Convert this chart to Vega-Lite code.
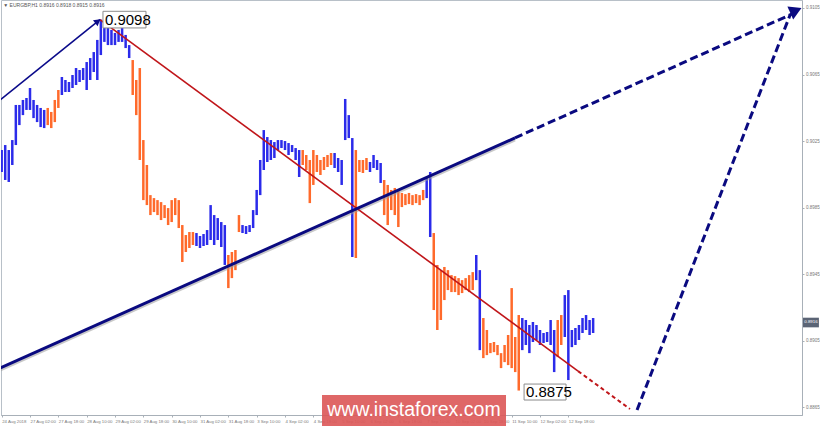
{
  "$schema": "https://vega.github.io/schema/vega-lite/v6.json",
  "width": 801,
  "height": 415,
  "autosize": "none",
  "padding": {"left": 1, "top": 0, "right": 18, "bottom": 11},
  "background": "white",
  "config": {"view": {"stroke": "#b8c0c8", "strokeWidth": 1}, "font": "Liberation Sans"},
  "datasets": {
    "bars": [
      {"t":0,"hi":0.90196,"lo":0.90064,"s":"u"},{"t":2,"hi":0.90226,"lo":0.90016,"s":"u"},{"t":4,"hi":0.90196,"lo":0.90004,"s":"u"},{"t":6,"hi":0.90256,"lo":0.90106,"s":"u"},
      {"t":8,"hi":0.90467,"lo":0.90226,"s":"u"},{"t":10,"hi":0.90467,"lo":0.90346,"s":"u"},{"t":12,"hi":0.90497,"lo":0.90406,"s":"u"},{"t":14,"hi":0.90509,"lo":0.90437,"s":"u"},
      {"t":16,"hi":0.90569,"lo":0.90437,"s":"u"},{"t":18,"hi":0.90497,"lo":0.90388,"s":"u"},{"t":20,"hi":0.90467,"lo":0.90364,"s":"u"},{"t":22,"hi":0.90449,"lo":0.90334,"s":"u"},
      {"t":24,"hi":0.90437,"lo":0.90328,"s":"u"},{"t":26,"hi":0.90449,"lo":0.90346,"s":"d"},{"t":28,"hi":0.90425,"lo":0.90328,"s":"d"},{"t":30,"hi":0.90497,"lo":0.90364,"s":"d"},
      {"t":32,"hi":0.90557,"lo":0.90449,"s":"d"},{"t":34,"hi":0.90635,"lo":0.90527,"s":"u"},{"t":36,"hi":0.90617,"lo":0.90545,"s":"u"},{"t":38,"hi":0.90605,"lo":0.90545,"s":"u"},
      {"t":40,"hi":0.90647,"lo":0.90569,"s":"u"},{"t":42,"hi":0.90689,"lo":0.90587,"s":"u"},{"t":44,"hi":0.90677,"lo":0.90605,"s":"u"},{"t":46,"hi":0.90689,"lo":0.90617,"s":"u"},
      {"t":48,"hi":0.90725,"lo":0.90557,"s":"u"},{"t":50,"hi":0.90749,"lo":0.90617,"s":"u"},{"t":52,"hi":0.90785,"lo":0.90665,"s":"u"},{"t":54,"hi":0.90858,"lo":0.90617,"s":"u"},
      {"t":56,"hi":0.9098,"lo":0.90767,"s":"u"},{"t":58,"hi":0.90948,"lo":0.90846,"s":"u"},{"t":60,"hi":0.90936,"lo":0.90827,"s":"u"},{"t":62,"hi":0.90918,"lo":0.90827,"s":"u"},
      {"t":64,"hi":0.909,"lo":0.90827,"s":"u"},{"t":66,"hi":0.90918,"lo":0.90846,"s":"u"},{"t":68,"hi":0.9093,"lo":0.90846,"s":"u"},{"t":70,"hi":0.90888,"lo":0.90809,"s":"u"},
      {"t":72,"hi":0.90827,"lo":0.90749,"s":"u"},{"t":74,"hi":0.90737,"lo":0.90527,"s":"d"},{"t":76,"hi":0.90617,"lo":0.90406,"s":"d"},{"t":78,"hi":0.90689,"lo":0.90136,"s":"d"},
      {"t":80,"hi":0.90256,"lo":0.89895,"s":"d"},{"t":82,"hi":0.90106,"lo":0.89865,"s":"d"},{"t":84,"hi":0.89925,"lo":0.89805,"s":"d"},{"t":86,"hi":0.89907,"lo":0.89823,"s":"d"},
      {"t":88,"hi":0.89895,"lo":0.89805,"s":"d"},{"t":90,"hi":0.89883,"lo":0.89775,"s":"d"},{"t":92,"hi":0.89865,"lo":0.89787,"s":"d"},{"t":94,"hi":0.89847,"lo":0.89745,"s":"d"},
      {"t":96,"hi":0.89895,"lo":0.89763,"s":"d"},{"t":98,"hi":0.89907,"lo":0.89805,"s":"d"},{"t":100,"hi":0.89895,"lo":0.89727,"s":"d"},{"t":102,"hi":0.89745,"lo":0.89523,"s":"d"},
      {"t":104,"hi":0.89685,"lo":0.89583,"s":"d"},{"t":106,"hi":0.89703,"lo":0.89607,"s":"d"},{"t":108,"hi":0.89703,"lo":0.89625,"s":"d"},{"t":110,"hi":0.89697,"lo":0.89619,"s":"u"},
      {"t":112,"hi":0.89679,"lo":0.89607,"s":"u"},{"t":114,"hi":0.89691,"lo":0.89619,"s":"u"},{"t":116,"hi":0.89715,"lo":0.89625,"s":"u"},{"t":118,"hi":0.89865,"lo":0.89655,"s":"u"},
      {"t":120,"hi":0.89805,"lo":0.89625,"s":"u"},{"t":122,"hi":0.89787,"lo":0.89655,"s":"u"},{"t":124,"hi":0.89763,"lo":0.89613,"s":"u"},{"t":126,"hi":0.89745,"lo":0.89505,"s":"u"},
      {"t":128,"hi":0.89565,"lo":0.89366,"s":"d"},{"t":130,"hi":0.89583,"lo":0.89426,"s":"d"},{"t":132,"hi":0.89595,"lo":0.89474,"s":"d"},{"t":134,"hi":0.89805,"lo":0.89703,"s":"d"},
      {"t":136,"hi":0.89745,"lo":0.89697,"s":"u"},{"t":138,"hi":0.89739,"lo":0.89691,"s":"u"},{"t":140,"hi":0.89745,"lo":0.89703,"s":"u"},{"t":142,"hi":0.89835,"lo":0.89727,"s":"u"},
      {"t":144,"hi":0.89956,"lo":0.89805,"s":"u"},{"t":146,"hi":0.90136,"lo":0.89925,"s":"u"},{"t":148,"hi":0.90316,"lo":0.90076,"s":"u"},{"t":150,"hi":0.90274,"lo":0.90124,"s":"u"},
      {"t":152,"hi":0.90256,"lo":0.90136,"s":"u"},{"t":154,"hi":0.90244,"lo":0.90148,"s":"u"},{"t":156,"hi":0.90256,"lo":0.90196,"s":"u"},{"t":158,"hi":0.90256,"lo":0.90208,"s":"u"},
      {"t":160,"hi":0.9025,"lo":0.90196,"s":"u"},{"t":162,"hi":0.90238,"lo":0.90166,"s":"u"},{"t":164,"hi":0.90226,"lo":0.90184,"s":"u"},{"t":166,"hi":0.90208,"lo":0.90136,"s":"u"},
      {"t":168,"hi":0.90196,"lo":0.90034,"s":"u"},{"t":170,"hi":0.90196,"lo":0.90106,"s":"d"},{"t":172,"hi":0.90166,"lo":0.90076,"s":"d"},{"t":174,"hi":0.90136,"lo":0.89877,"s":"d"},
      {"t":176,"hi":0.90196,"lo":0.89986,"s":"d"},{"t":178,"hi":0.90166,"lo":0.90064,"s":"d"},{"t":180,"hi":0.90136,"lo":0.90046,"s":"d"},{"t":182,"hi":0.90154,"lo":0.90076,"s":"d"},
      {"t":184,"hi":0.90166,"lo":0.90094,"s":"d"},{"t":186,"hi":0.90178,"lo":0.90106,"s":"d"},{"t":188,"hi":0.90178,"lo":0.90088,"s":"u"},{"t":190,"hi":0.90148,"lo":0.90064,"s":"u"},
      {"t":192,"hi":0.90136,"lo":0.89986,"s":"u"},{"t":194,"hi":0.90503,"lo":0.90256,"s":"u"},{"t":196,"hi":0.90406,"lo":0.90268,"s":"u"},{"t":198,"hi":0.90268,"lo":0.89553,"s":"u"},
      {"t":200,"hi":0.90196,"lo":0.89547,"s":"d"},{"t":202,"hi":0.90136,"lo":0.90064,"s":"d"},{"t":204,"hi":0.90136,"lo":0.90058,"s":"d"},{"t":206,"hi":0.90148,"lo":0.90076,"s":"d"},
      {"t":208,"hi":0.90124,"lo":0.90064,"s":"u"},{"t":210,"hi":0.90166,"lo":0.90088,"s":"u"},{"t":212,"hi":0.90136,"lo":0.90076,"s":"u"},{"t":214,"hi":0.90118,"lo":0.89998,"s":"u"},
      {"t":216,"hi":0.90016,"lo":0.89805,"s":"d"},{"t":218,"hi":0.89986,"lo":0.89745,"s":"d"},{"t":220,"hi":0.89956,"lo":0.89835,"s":"d"},{"t":222,"hi":0.89968,"lo":0.89805,"s":"d"},
      {"t":224,"hi":0.89956,"lo":0.89733,"s":"d"},{"t":226,"hi":0.89938,"lo":0.89853,"s":"d"},{"t":228,"hi":0.89931,"lo":0.89865,"s":"d"},{"t":230,"hi":0.89938,"lo":0.89871,"s":"d"},
      {"t":232,"hi":0.89925,"lo":0.89865,"s":"d"},{"t":234,"hi":0.89931,"lo":0.89877,"s":"d"},{"t":236,"hi":0.89925,"lo":0.89865,"s":"d"},{"t":238,"hi":0.89956,"lo":0.89895,"s":"d"},
      {"t":240,"hi":0.90028,"lo":0.89907,"s":"u"},{"t":242,"hi":0.90064,"lo":0.89673,"s":"u"},{"t":244,"hi":0.89697,"lo":0.89234,"s":"d"},{"t":246,"hi":0.89505,"lo":0.89114,"s":"d"},
      {"t":248,"hi":0.89474,"lo":0.89174,"s":"d"},{"t":250,"hi":0.89493,"lo":0.89294,"s":"d"},{"t":252,"hi":0.89474,"lo":0.89354,"s":"d"},{"t":254,"hi":0.89444,"lo":0.89342,"s":"d"},
      {"t":256,"hi":0.89438,"lo":0.89342,"s":"d"},{"t":258,"hi":0.89426,"lo":0.89324,"s":"d"},{"t":260,"hi":0.89414,"lo":0.89336,"s":"d"},{"t":262,"hi":0.89426,"lo":0.89354,"s":"d"},
      {"t":264,"hi":0.89444,"lo":0.89342,"s":"d"},{"t":266,"hi":0.89462,"lo":0.89354,"s":"d"},{"t":268,"hi":0.89565,"lo":0.89414,"s":"u"},{"t":270,"hi":0.89474,"lo":0.88993,"s":"u"},
      {"t":272,"hi":0.89186,"lo":0.88945,"s":"d"},{"t":274,"hi":0.89114,"lo":0.88963,"s":"d"},{"t":276,"hi":0.89036,"lo":0.88975,"s":"d"},{"t":278,"hi":0.89042,"lo":0.88981,"s":"d"},
      {"t":280,"hi":0.89024,"lo":0.88963,"s":"d"},{"t":282,"hi":0.88975,"lo":0.88885,"s":"d"},{"t":284,"hi":0.89024,"lo":0.88921,"s":"d"},{"t":286,"hi":0.89084,"lo":0.88903,"s":"d"},
      {"t":288,"hi":0.89366,"lo":0.88885,"s":"d"},{"t":290,"hi":0.89072,"lo":0.88861,"s":"d"},{"t":292,"hi":0.89204,"lo":0.8875,"s":"d"},{"t":294,"hi":0.89186,"lo":0.88993,"s":"u"},
      {"t":296,"hi":0.89174,"lo":0.89024,"s":"u"},{"t":298,"hi":0.89144,"lo":0.88975,"s":"u"},{"t":300,"hi":0.89162,"lo":0.89042,"s":"u"},{"t":302,"hi":0.89144,"lo":0.89054,"s":"u"},
      {"t":304,"hi":0.89114,"lo":0.89024,"s":"u"},{"t":306,"hi":0.89096,"lo":0.89036,"s":"u"},{"t":308,"hi":0.89102,"lo":0.89042,"s":"u"},{"t":310,"hi":0.89174,"lo":0.89024,"s":"u"},
      {"t":312,"hi":0.89114,"lo":0.88861,"s":"u"},{"t":314,"hi":0.89174,"lo":0.88951,"s":"d"},{"t":316,"hi":0.89204,"lo":0.89024,"s":"d"},{"t":318,"hi":0.89324,"lo":0.89072,"s":"u"},
      {"t":320,"hi":0.89354,"lo":0.88813,"s":"u"},{"t":322,"hi":0.89114,"lo":0.89011,"s":"u"},{"t":324,"hi":0.89126,"lo":0.89024,"s":"u"},{"t":326,"hi":0.89144,"lo":0.89054,"s":"u"},
      {"t":328,"hi":0.89186,"lo":0.89096,"s":"u"},{"t":330,"hi":0.89204,"lo":0.89114,"s":"u"},{"t":332,"hi":0.89174,"lo":0.89084,"s":"u"},{"t":334,"hi":0.89186,"lo":0.89096,"s":"u"}
    ],
    "segs": [
      {"id":"w1","t":-0.94,"p":0.90497},{"id":"w1","t":55.5,"p":0.9098},
      {"id":"r1","t":55.5,"p":0.9098},{"id":"r1","t":325.5,"p":0.88867},
      {"id":"r2","t":325.5,"p":0.88867},{"id":"r2","t":354.8,"p":0.88639},
      {"id":"b1","t":-0.94,"p":0.88885},{"id":"b1","t":289.9,"p":0.90269},
      {"id":"b2","t":289.9,"p":0.90269},{"id":"b2","t":448.0,"p":0.91022},
      {"id":"b3","t":358.8,"p":0.88633},{"id":"b3","t":445.2,"p":0.91008}
    ],
    "notes": [
      {"t1":57.2,"t2":81.5,"p1":0.9103,"p2":0.9093,"tx":58.3,"py":0.90978,"label":"0.9098"},
      {"t1":295.0,"t2":318.7,"p1":0.88789,"p2":0.88693,"tx":296.1,"py":0.88741,"label":"0.8875"}
    ]
  },
  "layer": [
    {
      "data": {"name": "bars"},
      "mark": {"type": "rule", "strokeWidth": 2.5, "clip": true},
      "encoding": {
        "x": {"field": "t", "type": "quantitative",
          "scale": {"domain": [-0.38, 451.95], "nice": false, "zero": false},
          "axis": {"orient": "bottom", "title": null, "grid": false,
            "values": [0,16,32,48,64,80,96,112,128,144,160,176,192,208,224,240,256,272,288,304,320],
            "labelExpr": "['24 Aug 2018','27 Aug 02:00','27 Aug 18:00','28 Aug 10:00','29 Aug 02:00','29 Aug 18:00','30 Aug 10:00','31 Aug 02:00','31 Aug 18:00','3 Sep 10:00','4 Sep 02:00','4 Sep 18:00','5 Sep 10:00','6 Sep 02:00','6 Sep 18:00','7 Sep 10:00','10 Sep 02:00','10 Sep 18:00','11 Sep 10:00','12 Sep 02:00','12 Sep 18:00'][round(datum.value/16)]",
            "labelAlign": "left", "labelFontSize": 4.3, "labelColor": "#7a7a7a", "labelPadding": 2,
            "tickSize": 2, "tickColor": "#a8b0b8", "domainColor": "#a8b0b8", "labelOverlap": false, "labelFlush": false}},
        "y": {"field": "lo", "type": "quantitative",
          "scale": {"domain": [0.88603, 0.91098], "nice": false, "zero": false},
          "axis": {"orient": "right", "title": null, "grid": false,
            "values": [0.8865,0.8875,0.8885,0.8895,0.8905,0.8915,0.8925,0.8935,0.8945,0.8955,0.8965,0.8975,0.8985,0.8995,0.9005,0.9015,0.9025,0.9035,0.9045,0.9055,0.9065,0.9075,0.9085,0.9095,0.9105],
            "format": ".4f", "labelFontSize": 4.5, "labelColor": "#777777", "labelPadding": 1.5,
            "tickSize": 2, "tickColor": "#a8b0b8", "domainColor": "#a8b0b8", "labelOverlap": false, "labelFlush": false, "labelBound": false}},
        "y2": {"field": "hi"},
        "color": {"field": "s", "type": "nominal", "legend": null,
          "scale": {"domain": ["u", "d"], "range": ["#2b2bea", "#ff6a2b"]}}
      }
    },
    {
      "data": {"name": "segs"},
      "transform": [{"filter": "datum.id === 'b1'"}],
      "mark": {"type": "line", "color": "#9a9a9a", "strokeWidth": 3, "opacity": 0.55, "yOffset": 2, "clip": true},
      "encoding": {"x": {"field": "t", "type": "quantitative"}, "y": {"field": "p", "type": "quantitative"}}
    },
    {
      "data": {"name": "segs"},
      "transform": [{"filter": "datum.id === 'w1'"}],
      "mark": {"type": "line", "color": "#0a0a8a", "strokeWidth": 1.6, "clip": true},
      "encoding": {"x": {"field": "t", "type": "quantitative"}, "y": {"field": "p", "type": "quantitative"}}
    },
    {
      "data": {"name": "segs"},
      "transform": [{"filter": "datum.id === 'r1'"}],
      "mark": {"type": "line", "color": "#c0161a", "strokeWidth": 1.6, "clip": true},
      "encoding": {"x": {"field": "t", "type": "quantitative"}, "y": {"field": "p", "type": "quantitative"}}
    },
    {
      "data": {"name": "segs"},
      "transform": [{"filter": "datum.id === 'r2'"}],
      "mark": {"type": "line", "color": "#c0161a", "strokeWidth": 2, "strokeDash": [4, 3], "clip": true},
      "encoding": {"x": {"field": "t", "type": "quantitative"}, "y": {"field": "p", "type": "quantitative"}}
    },
    {
      "data": {"name": "segs"},
      "transform": [{"filter": "datum.id === 'b1'"}],
      "mark": {"type": "line", "color": "#0a0a80", "strokeWidth": 3, "clip": true},
      "encoding": {"x": {"field": "t", "type": "quantitative"}, "y": {"field": "p", "type": "quantitative"}}
    },
    {
      "data": {"name": "segs"},
      "transform": [{"filter": "datum.id === 'b2' || datum.id === 'b3'"}],
      "mark": {"type": "line", "color": "#0a0a80", "strokeWidth": 3, "strokeDash": [8, 4], "clip": true},
      "encoding": {"detail": {"field": "id"}, "x": {"field": "t", "type": "quantitative"}, "y": {"field": "p", "type": "quantitative"}}
    },
    {
      "data": {"values": [{"t": 448.5, "p": 0.91035}]},
      "mark": {"type": "point", "shape": "triangle-right", "filled": true, "color": "#0a0a80", "size": 200, "angle": 336, "opacity": 1},
      "encoding": {"x": {"field": "t", "type": "quantitative"}, "y": {"field": "p", "type": "quantitative"}}
    },
    {
      "data": {"values": [{"t": 54.3, "p": 0.9097}]},
      "mark": {"type": "point", "shape": "triangle-right", "filled": true, "color": "#0a0a8a", "size": 55, "angle": 322, "opacity": 1},
      "encoding": {"x": {"field": "t", "type": "quantitative"}, "y": {"field": "p", "type": "quantitative"}}
    },
    {
      "data": {"name": "notes"},
      "mark": {"type": "rect", "fill": "white", "stroke": "#8c8c8c", "strokeWidth": 1},
      "encoding": {"x": {"field": "t1", "type": "quantitative"}, "x2": {"field": "t2"}, "y": {"field": "p1", "type": "quantitative"}, "y2": {"field": "p2"}}
    },
    {
      "data": {"name": "notes"},
      "mark": {"type": "text", "align": "left", "baseline": "middle", "fontSize": 15, "color": "black", "font": "Liberation Sans"},
      "encoding": {"x": {"field": "tx", "type": "quantitative"}, "y": {"field": "py", "type": "quantitative"}, "text": {"field": "label"}}
    },
    {
      "data": {"values": [{"t1": 180.9, "t2": 284.8, "p1": 0.88723, "p2": 0.88536, "tc": 232.8, "pc": 0.88633, "label": "www.instaforex.com"}]},
      "layer": [
        {"mark": {"type": "rect", "fill": "#dc5656", "opacity": 0.9},
         "encoding": {"x": {"field": "t1", "type": "quantitative"}, "x2": {"field": "t2"}, "y": {"field": "p1", "type": "quantitative"}, "y2": {"field": "p2"}}},
        {"mark": {"type": "text", "align": "center", "baseline": "middle", "fontSize": 19.5, "color": "white", "font": "Liberation Sans"},
         "encoding": {"x": {"field": "tc", "type": "quantitative"}, "y": {"field": "pc", "type": "quantitative"}, "text": {"field": "label"}}}
      ]
    },
    {
      "data": {"values": [{"t1": 452.5, "t2": 461.5, "p1": 0.89188, "p2": 0.8913, "tc": 457.0, "pc": 0.8916, "label": "0.8916"}]},
      "layer": [
        {"mark": {"type": "rect", "fill": "#5b6475"},
         "encoding": {"x": {"field": "t1", "type": "quantitative"}, "x2": {"field": "t2"}, "y": {"field": "p1", "type": "quantitative"}, "y2": {"field": "p2"}}},
        {"mark": {"type": "text", "align": "center", "baseline": "middle", "fontSize": 4.4, "color": "white"},
         "encoding": {"x": {"field": "tc", "type": "quantitative"}, "y": {"field": "pc", "type": "quantitative"}, "text": {"field": "label"}}}
      ]
    },
    {
      "data": {"values": [{"t": 0.9, "p": 0.91068, "label": "▼ EURGBP,H1  0.8916 0.8918 0.8915 0.8916"}]},
      "mark": {"type": "text", "align": "left", "baseline": "middle", "fontSize": 5, "color": "#555555"},
      "encoding": {"x": {"field": "t", "type": "quantitative"}, "y": {"field": "p", "type": "quantitative"}, "text": {"field": "label"}}
    }
  ]
}
